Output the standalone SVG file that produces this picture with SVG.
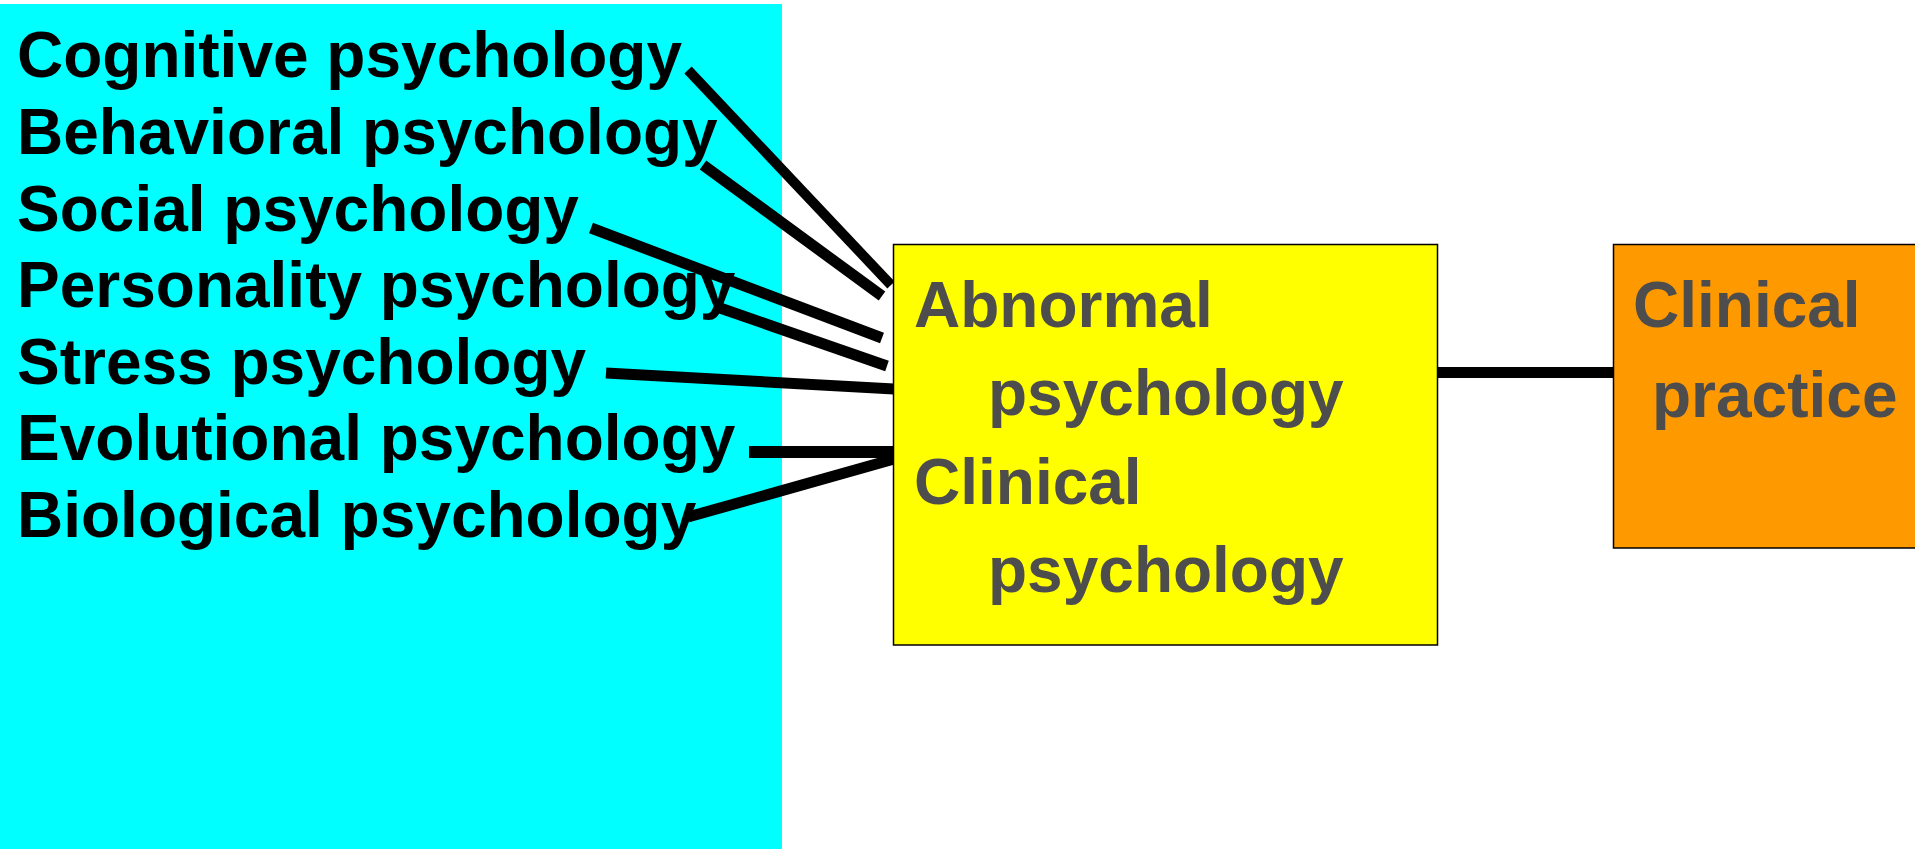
<svg xmlns="http://www.w3.org/2000/svg" width="1915" height="849" viewBox="0 0 1915 849">
<style>
.src{font-family:"Liberation Sans",Arial,sans-serif;font-weight:bold;font-size:64px;fill:#000}
.lbl{font-family:"Liberation Sans",Arial,sans-serif;font-weight:bold;font-size:64px;fill:#4d4d4d}
.box{stroke:#000;stroke-width:1.5}
.con{stroke:#000;fill:none;stroke-linecap:butt}
</style>
<rect x="0" y="0" width="1915" height="849" fill="#fff"/>
<rect id="panel" x="0" y="4" width="782" height="845" fill="#00ffff"/>
<g id="n-cognitive"><text class="src" x="17" y="77">Cognitive psychology</text></g>
<g id="n-behavioral"><text class="src" x="17" y="154">Behavioral psychology</text></g>
<g id="n-social"><text class="src" x="17" y="231">Social psychology</text></g>
<g id="n-personality"><text class="src" x="17" y="307">Personality psychology</text></g>
<g id="n-stress"><text class="src" x="17" y="384">Stress psychology</text></g>
<g id="n-evolutional"><text class="src" x="17" y="460">Evolutional psychology</text></g>
<g id="n-biological"><text class="src" x="17" y="537">Biological psychology</text></g>
<g id="connectors">
<line class="con" x1="688" y1="70" x2="891" y2="285" stroke-width="10"/>
<line class="con" x1="703" y1="165" x2="882" y2="296" stroke-width="11"/>
<line class="con" x1="591" y1="228" x2="882" y2="338" stroke-width="11"/>
<line class="con" x1="720" y1="308" x2="887" y2="366" stroke-width="11"/>
<line class="con" x1="606" y1="373" x2="894" y2="389" stroke-width="11"/>
<line class="con" x1="749" y1="452" x2="894" y2="452" stroke-width="12"/>
<line class="con" x1="688" y1="517" x2="894" y2="459" stroke-width="11"/>
<line class="con" x1="1437" y1="372.5" x2="1614" y2="372.5" stroke-width="11"/>
</g>
<g id="n-abnormal">
<rect class="box" x="893.5" y="244.5" width="544" height="400.5" fill="#ffff00"/>
<text class="lbl" x="914" y="327">Abnormal</text>
<text class="lbl" x="988" y="415">psychology</text>
<text class="lbl" x="914" y="504">Clinical</text>
<text class="lbl" x="988" y="592">psychology</text>
</g>
<g id="n-practice">
<rect class="box" x="1613.5" y="244.5" width="310" height="303.5" fill="#ff9900"/>
<text class="lbl" x="1633" y="327">Clinical</text>
<text class="lbl" x="1652" y="417">practice</text>
</g>
</svg>
